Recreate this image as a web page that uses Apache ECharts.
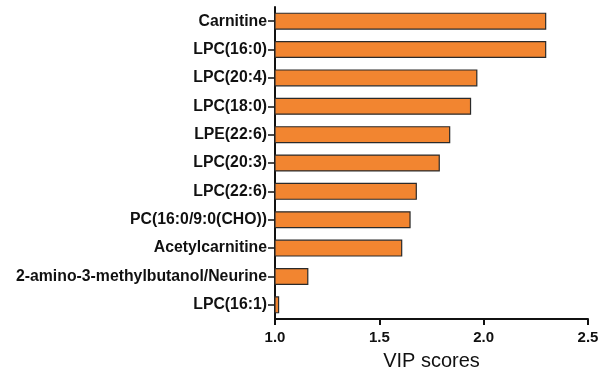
<!DOCTYPE html>
<html><head><meta charset="utf-8">
<script src="https://cdn.jsdelivr.net/npm/echarts@6/dist/echarts.min.js"></script>
<style>html,body{margin:0;padding:0;background:#fff}#c{width:610px;height:372px}</style>
</head><body><div id="c"></div>
<script>
const categories = ["Carnitine","LPC(16:0)","LPC(20:4)","LPC(18:0)","LPE(22:6)","LPC(20:3)","LPC(22:6)","PC(16:0/9:0(CHO))","Acetylcarnitine","2-amino-3-methylbutanol/Neurine","LPC(16:1)"];
const vipScores = [2.30, 2.30, 1.97, 1.94, 1.84, 1.79, 1.68, 1.65, 1.61, 1.16, 1.02];
const xTicks = [1.0, 1.5, 2.0, 2.5];

const chart = echarts.init(document.getElementById('c'), null, {renderer:'canvas'});
chart.setOption({
  animation: false,
  backgroundColor: '#fff',
  grid: {left: 275, right: 22, top: 7, bottom: 53, containLabel: false, outerBoundsMode: 'none'},
  xAxis: {
    type: 'value', min: xTicks[0], max: xTicks[xTicks.length-1], interval: 0.5,
    name: 'VIP scores', nameLocation: 'middle', nameGap: 32,
    nameTextStyle: {fontFamily: 'Liberation Sans', fontSize: 20, color: '#111'},
    axisLine: {show: true, lineStyle: {color: '#111', width: 2}},
    axisTick: {show: true, length: 6, lineStyle: {color: '#111', width: 2}},
    axisLabel: {fontFamily: 'Liberation Sans', fontWeight: 'bold', fontSize: 15, color: '#111', margin: 11,
      formatter: v => v.toFixed(1)},
    splitLine: {show: false}
  },
  yAxis: {
    type: 'category', data: categories, inverse: true,
    axisLine: {show: true, lineStyle: {color: '#111', width: 2}},
    axisTick: {show: true, alignWithLabel: true, length: 7, lineStyle: {color: '#111', width: 1.5}},
    axisLabel: {fontFamily: 'Liberation Sans', fontWeight: 'bold', fontSize: 15.8, color: '#111', margin: 8}
  },
  series: [{
    type: 'bar', data: vipScores, barCategoryGap: '40%',
    itemStyle: {color: '#F28530', borderColor: '#2a2a2a', borderWidth: 1.2},
    clip: true
  }]
});
</script></body></html>
